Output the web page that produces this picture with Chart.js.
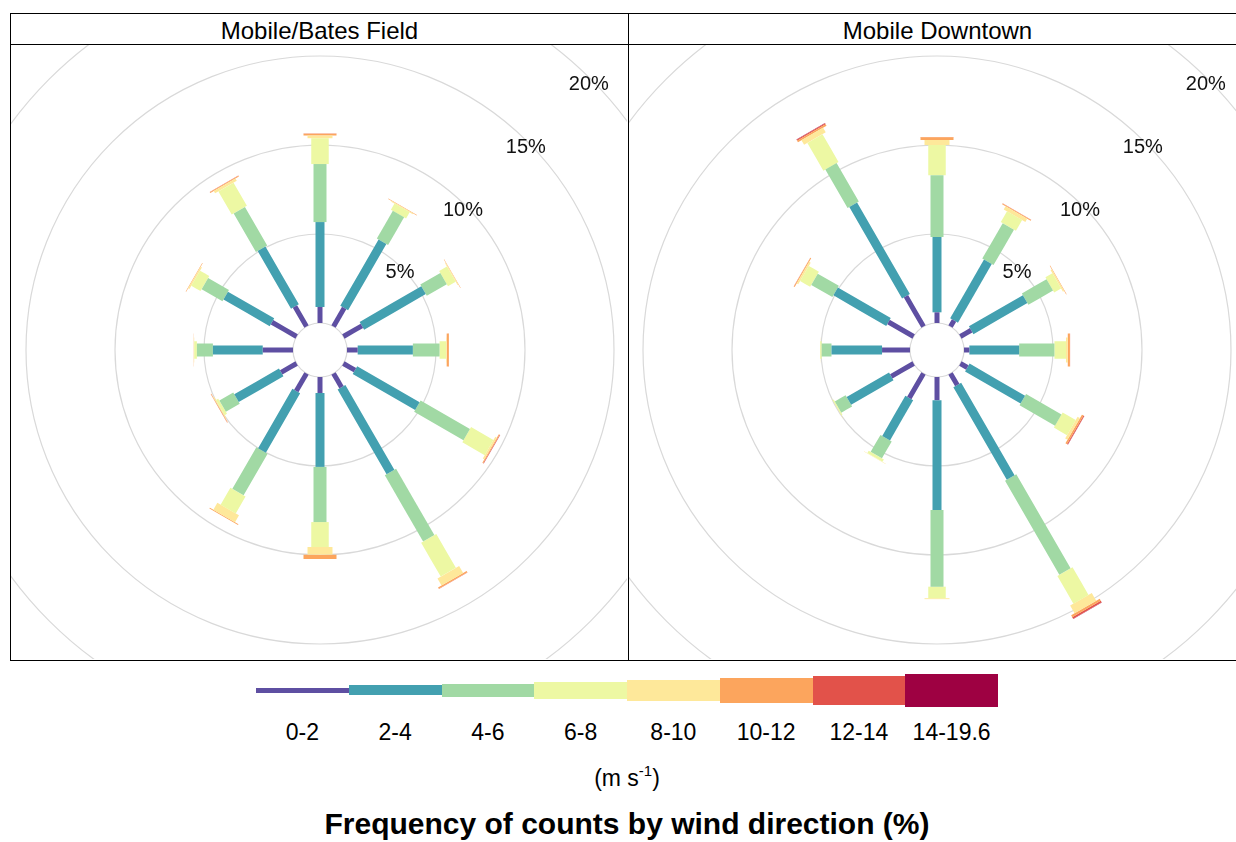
<!DOCTYPE html>
<html>
<head>
<meta charset="utf-8">
<script src="https://cdn.jsdelivr.net/npm/chart.js@4.4.1/dist/chart.umd.min.js"></script>
<style>
  html, body { margin: 0; padding: 0; background: #fff; }
  body { width: 1236px; height: 842px; overflow: hidden; position: relative;
         font-family: "Liberation Sans", Arial, Helvetica, sans-serif; color: #000; }
  .panel { position: absolute; top: 13px; width: 619px; height: 648px; z-index: 2;
           border: 1px solid #000; box-sizing: border-box; }
  .strip { position: absolute; left: 0; top: 0; right: 0; height: 31px; background: #fff;
           border-bottom: 1px solid #000; box-sizing: border-box;
           text-align: center; font-size: 24px; line-height: 34px; }
  .rose { position: absolute; z-index: 1; }
  .key { position: absolute; }
  .keylab { position: absolute; font-size: 23px; text-align: center; width: 120px; }
  #units { position: absolute; left: 527px; width: 200px; top: 765px; text-align: center; font-size: 23px; }
  #units sup { font-size: 15px; vertical-align: 10px; line-height: 0; }
  #caption { position: absolute; left: 0; width: 1254px; top: 807px; text-align: center;
             font-size: 30px; font-weight: bold; }
</style>
</head>
<body>
<canvas id="c0" class="rose" width="616" height="614" style="left:11px;top:45px"></canvas>
<canvas id="c1" class="rose" width="616" height="614" style="left:629px;top:45px"></canvas>
<div class="panel" style="left:10px"><div class="strip" id="t0"></div></div>
<div class="panel" style="left:628px"><div class="strip" id="t1"></div></div>
<div id="legend"></div>
<div id="units">(m s<sup>-1</sup>)</div>
<div id="caption">Frequency of counts by wind direction (%)</div>

<script>
// Wind direction sectors (degrees, clockwise from north) and speed classes (m/s)
const directions = [0, 30, 60, 90, 120, 150, 180, 210, 240, 270, 300, 330];
const speedBins = ['0-2', '2-4', '4-6', '6-8', '8-10', '10-12', '12-14', '14-19.6'];
const siteNames = ['Mobile/Bates Field', 'Mobile Downtown'];
const ringValues = [0, 5, 10, 15, 20, 25];
const ringLabels = [5, 10, 15, 20];

// Mobile/Bates Field: frequency (%) per direction for each speed class
const bates_0_2   = [0.90, 1.20, 1.20, 0.60, 0.75, 0.90, 0.90, 1.15, 1.00, 1.70, 1.60, 1.30];
const bates_2_4   = [4.77, 4.30, 4.00, 3.10, 4.05, 5.50, 4.15, 3.85, 2.90, 2.80, 3.00, 3.75];
const bates_4_6   = [3.26, 1.80, 1.30, 1.50, 3.20, 4.30, 3.10, 2.70, 0.90, 0.90, 1.35, 2.50];
const bates_6_8   = [1.45, 0.40, 0.50, 0.37, 1.45, 2.20, 1.40, 1.10, 0.15, 0.15, 0.60, 1.50];
const bates_8_10  = [0.15, 0.05, 0.05, 0.03, 0.10, 0.45, 0.43, 0.45, 0.05, 0.02, 0.08, 0.15];
const bates_10_12 = [0.10, 0.02, 0.02, 0.12, 0.05, 0.08, 0.24, 0.05, 0.03, 0.01, 0.03, 0.05];
const bates_12_14 = [0.02, 0.00, 0.00, 0.01, 0.03, 0.02, 0.01, 0.00, 0.01, 0.00, 0.00, 0.02];
const bates_14_20 = [0.00, 0.00, 0.00, 0.00, 0.01, 0.00, 0.00, 0.00, 0.00, 0.00, 0.00, 0.00];

// Mobile Downtown: frequency (%) per direction for each speed class
const downtown_0_2   = [0.60, 0.40, 0.70, 0.30, 0.45, 0.76, 1.30, 1.60, 1.45, 1.57, 1.63, 1.97];
const downtown_2_4   = [4.23, 3.80, 3.50, 2.80, 3.60, 6.00, 6.17, 2.60, 2.75, 2.84, 3.43, 5.93];
const downtown_4_6   = [3.47, 2.30, 1.60, 1.98, 2.30, 6.10, 4.31, 1.10, 0.70, 0.55, 1.37, 2.50];
const downtown_6_8   = [1.70, 0.70, 0.45, 0.65, 0.85, 1.80, 0.65, 0.15, 0.07, 0.08, 0.65, 1.80];
const downtown_8_10  = [0.28, 0.20, 0.08, 0.10, 0.15, 0.50, 0.05, 0.03, 0.01, 0.01, 0.10, 0.30];
const downtown_10_12 = [0.15, 0.05, 0.03, 0.12, 0.10, 0.12, 0.01, 0.00, 0.00, 0.00, 0.05, 0.10];
const downtown_12_14 = [0.02, 0.01, 0.00, 0.01, 0.05, 0.10, 0.00, 0.00, 0.00, 0.00, 0.01, 0.05];
const downtown_14_20 = [0.00, 0.00, 0.00, 0.00, 0.01, 0.02, 0.00, 0.00, 0.00, 0.00, 0.00, 0.03];

const siteBins = [
  [bates_0_2, bates_2_4, bates_4_6, bates_6_8, bates_8_10, bates_10_12, bates_12_14, bates_14_20],
  [downtown_0_2, downtown_2_4, downtown_4_6, downtown_6_8, downtown_8_10, downtown_10_12, downtown_12_14, downtown_14_20]
];

// Styling
const binColours = ['#5E4FA2', '#43A0B0', '#A1D9A4', '#EDF8A3', '#FEE89A', '#FCA55D', '#E2524A', '#9E0142'];
const paddleWidths = [5, 9, 13, 17.5, 25, 33, 33, 33];
const keyHeights = [5, 10, 13, 17, 21, 25, 29, 33];
const pxPerPercent = 17.8;            // radial scale
const holeOffset = 27 / pxPerPercent; // calm-centre hole, in % units
const centres = [{ x: 309, y: 305 }, { x: 308, y: 305 }]; // rose centre inside each canvas
const canvasW = 616, canvasH = 614;

const rad = d => d * Math.PI / 180;
const polar = (p, deg) => ({ x: (p + holeOffset) * Math.sin(rad(deg)), y: (p + holeOffset) * Math.cos(rad(deg)) });

// Grid rings and percentage labels, drawn through the chart scales
const roseGrid = {
  id: 'roseGrid',
  beforeDatasetsDraw(chart) {
    const { ctx, scales: { x, y } } = chart;
    const cx = x.getPixelForValue(0), cy = y.getPixelForValue(0);
    ctx.save();
    ctx.strokeStyle = '#D9D9D9';
    ctx.lineWidth = 1.2;
    ringValues.forEach(p => {
      const r = x.getPixelForValue(p + holeOffset) - cx;
      ctx.beginPath();
      ctx.arc(cx, cy, r, 0, Math.PI * 2);
      ctx.stroke();
    });
    ctx.restore();
  },
  afterDatasetsDraw(chart) {
    const { ctx, scales: { x, y } } = chart;
    ctx.save();
    ctx.fillStyle = '#111';
    ctx.font = '20px "Liberation Sans", Arial, sans-serif';
    ctx.textAlign = 'center';
    ctx.textBaseline = 'middle';
    ringLabels.forEach(p => {
      const pt = polar(p, 45);
      ctx.fillText(p + '%', x.getPixelForValue(pt.x) - 2, y.getPixelForValue(pt.y) + 5);
    });
    ctx.restore();
  }
};

// One straight paddle segment per direction and speed class, stacked outwards
function buildDatasets(bins) {
  const sets = [];
  directions.forEach((deg, i) => {
    let cum = 0;
    bins.forEach((series, b) => {
      const v = series[i];
      if (v > 0) {
        sets.push({
          data: [polar(cum, deg), polar(cum + v, deg)],
          showLine: true,
          tension: 0.0001,
          borderColor: binColours[b],
          borderWidth: paddleWidths[b],
          borderCapStyle: 'butt',
          borderJoinStyle: 'bevel',
          pointRadius: 0,
          pointHoverRadius: 0,
          fill: false
        });
      }
      cum += v;
    });
  });
  return sets;
}

siteBins.forEach((bins, k) => {
  const centre = centres[k];
  document.getElementById('t' + k).textContent = siteNames[k];
  new Chart(document.getElementById('c' + k), {
    type: 'scatter',
    data: { datasets: buildDatasets(bins) },
    options: {
      responsive: false,
      animation: false,
      events: [],
      layout: { padding: 0 },
      plugins: { legend: { display: false }, tooltip: { enabled: false } },
      scales: {
        x: { type: 'linear', display: false,
             min: -centre.x / pxPerPercent, max: (canvasW - centre.x) / pxPerPercent },
        y: { type: 'linear', display: false,
             min: -(canvasH - centre.y) / pxPerPercent, max: centre.y / pxPerPercent }
      }
    },
    plugins: [roseGrid]
  });
});

// Speed-class key
const legend = document.getElementById('legend');
const keyLeft = 256, keyW = 92.75, keyMid = 690;
speedBins.forEach((lab, b) => {
  const bar = document.createElement('div');
  bar.className = 'key';
  bar.style.left = (keyLeft + b * keyW) + 'px';
  bar.style.width = keyW + 'px';
  bar.style.height = keyHeights[b] + 'px';
  bar.style.top = (keyMid - keyHeights[b] / 2) + 'px';
  bar.style.background = binColours[b];
  legend.appendChild(bar);
  const t = document.createElement('div');
  t.className = 'keylab';
  t.textContent = lab;
  t.style.left = (keyLeft + b * keyW + keyW / 2 - 60) + 'px';
  t.style.top = '719px';
  legend.appendChild(t);
});
</script>
</body>
</html>
